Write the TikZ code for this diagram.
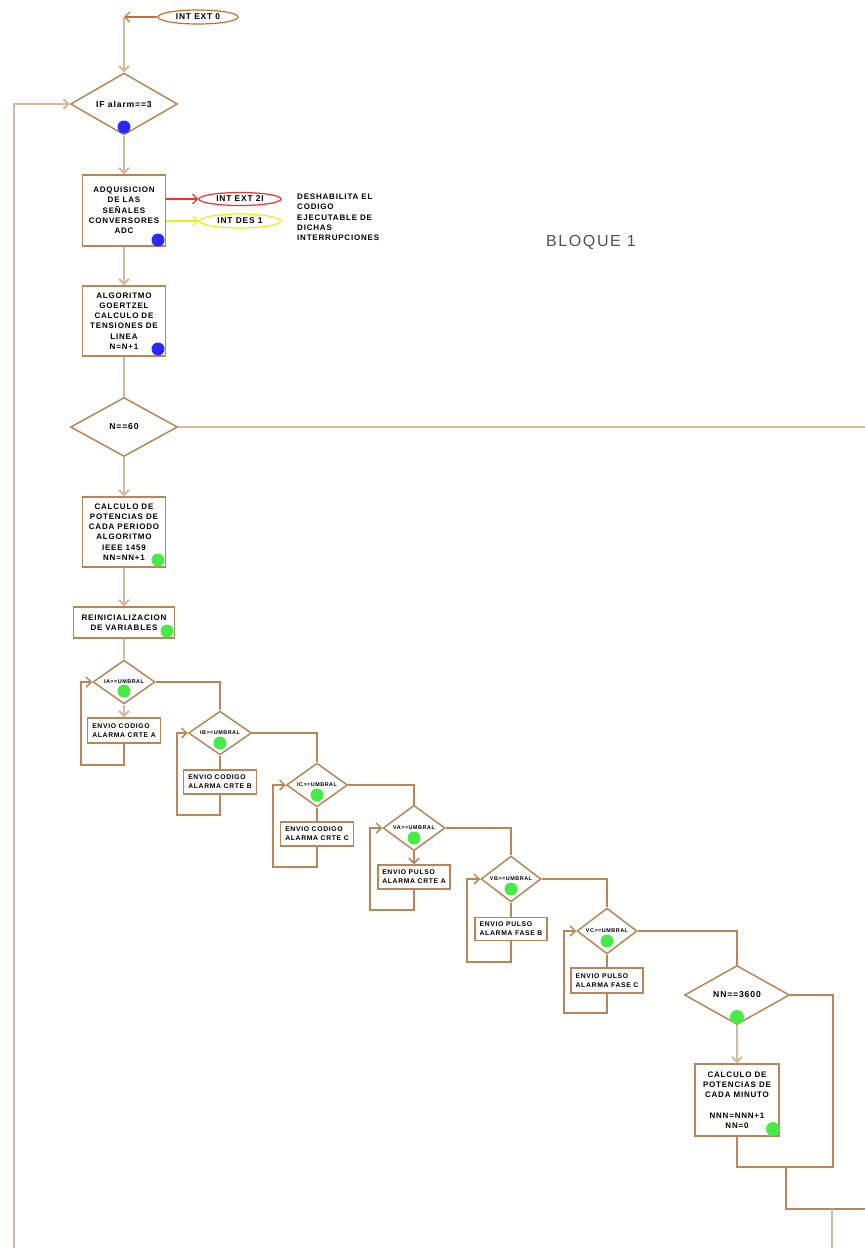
\documentclass[tikz,border=0pt]{standalone}
\usepackage{fontspec}
\setmainfont{Liberation Sans}
\newfontfamily\cad[LetterSpace=10]{Liberation Sans}
\usetikzlibrary{shapes.geometric,arrows.meta}
\definecolor{brn}{RGB}{184,134,88}
\definecolor{lbrn}{RGB}{214,186,158}
\definecolor{ebrn}{RGB}{196,110,50}
\definecolor{dotblue}{RGB}{40,40,255}
\definecolor{dotgreen}{RGB}{70,235,70}
\definecolor{ylw}{RGB}{238,238,20}
\definecolor{rd}{RGB}{240,50,50}
\definecolor{txtgray}{RGB}{80,80,80}
\begin{document}
\begin{tikzpicture}[x=1pt,y=-1pt,
  >={Straight Barb[length=5pt,width=10pt]},
  proc/.style={draw=brn, line width=1.5pt, fill=white, inner sep=0pt, align=center,
    font=\cad\bfseries\fontsize{8}{10.3}\selectfont},
  smallproc/.style={draw=brn, line width=1.5pt, fill=white, inner sep=0pt, align=left,
    font=\cad\bfseries\fontsize{6.8}{9}\selectfont},
  dec/.style={diamond, draw=brn, line width=1.5pt, fill=white, inner sep=0pt,
    font=\cad\bfseries\fontsize{8.6}{9}\selectfont},
  smalldec/.style={diamond, draw=brn, line width=1.5pt, fill=white, inner sep=0pt,
    font=\cad\bfseries\fontsize{5.4}{6}\selectfont},
  intr/.style={ellipse, line width=1.2pt, fill=white, inner sep=0pt,
    font=\cad\bfseries\fontsize{8.4}{9}\selectfont},
  flow/.style={draw=lbrn, line width=2pt},
  link/.style={draw=brn, line width=1.5pt},
  bdot/.style={circle, fill=dotblue, inner sep=0pt, minimum size=13pt},
  gdot/.style={circle, fill=dotgreen, inner sep=0pt, minimum size=13pt}
]
\useasboundingbox (0,0) rectangle (865,1248);

% ---- main column ----
\node[intr, draw=ebrn, minimum width=80pt, minimum height=14pt] (int0) at (198,17) {INT EXT 0};
\coordinate (c0) at (124,17);
\node[dec, minimum width=107pt, minimum height=56pt] (d1) at (124,104) {IF alarm==3};
\node[proc, minimum width=83pt, minimum height=71pt] (b2) at (124,210.5)
  {ADQUISICION\\DE LAS\\SEÑALES\\CONVERSORES\\ADC};
\node[intr, draw=rd, minimum width=82pt, minimum height=13pt] (int2) at (240,199) {INT EXT 2I};
\node[intr, draw=ylw, minimum width=81pt, minimum height=14pt] (int3) at (240,221) {INT DES 1};
\node[anchor=north west, inner sep=0pt, align=left, font=\cad\bfseries\fontsize{8}{10.2}\selectfont] (note) at (297,194)
  {DESHABILITA EL\\CODIGO\\EJECUTABLE DE\\DICHAS\\INTERRUPCIONES};
\node[text=txtgray, inner sep=0pt, font=\fontsize{16}{16}\selectfont\addfontfeature{LetterSpace=10}] (bloque) at (591,242) {BLOQUE 1};
\node[proc, minimum width=83pt, minimum height=70pt] (b3) at (124,321)
  {ALGORITMO\\GOERTZEL\\CALCULO DE\\TENSIONES DE\\LINEA\\N=N+1};
\node[dec, minimum width=107pt, minimum height=59pt] (d2) at (124,427) {N==60};
\node[proc, minimum width=83pt, minimum height=70pt] (b4) at (124,532)
  {CALCULO DE\\POTENCIAS DE\\CADA PERIODO\\ALGORITMO\\IEEE 1459\\NN=NN+1};
\node[proc, minimum width=101pt, minimum height=31pt] (b5) at (124,622.5)
  {REINICIALIZACION\\DE VARIABLES};

% ---- threshold cascade ----
\node[smalldec, minimum width=62pt, minimum height=34pt] (dA) at (124,682) {IA>=UMBRAL};
\node[smallproc, minimum width=73pt, minimum height=25pt] (bA) at (124,730.5) {ENVIO CODIGO\\ALARMA CRTE A};
\node[smalldec, minimum width=63pt, minimum height=35pt] (dB) at (220,733) {IB>=UMBRAL};
\node[smallproc, minimum width=73pt, minimum height=24pt] (bB) at (220,782) {ENVIO CODIGO\\ALARMA CRTE B};
\node[smalldec, minimum width=61pt, minimum height=36pt] (dC) at (317,785) {IC>=UMBRAL};
\node[smallproc, minimum width=73pt, minimum height=24pt] (bC) at (317,834) {ENVIO CODIGO\\ALARMA CRTE C};
\node[smalldec, minimum width=62pt, minimum height=36pt] (dVA) at (414,828) {VA>=UMBRAL};
\node[smallproc, minimum width=72pt, minimum height=24pt] (bVA) at (414,877) {ENVIO PULSO\\ALARMA CRTE A};
\node[smalldec, minimum width=60pt, minimum height=35pt] (dVB) at (511,879) {VB>=UMBRAL};
\node[smallproc, minimum width=72pt, minimum height=23pt] (bVB) at (511,929) {ENVIO PULSO\\ALARMA FASE B};
\node[smalldec, minimum width=60pt, minimum height=36pt] (dVC) at (607,931) {VC>=UMBRAL};
\node[smallproc, minimum width=72pt, minimum height=25pt] (bVC) at (607,980.5) {ENVIO PULSO\\ALARMA FASE C};
\node[dec, minimum width=105pt, minimum height=59pt] (d7) at (737,995) {NN==3600};
\node[proc, minimum width=84pt, minimum height=72pt] (b7) at (737,1100)
  {CALCULO DE\\POTENCIAS DE\\CADA MINUTO\\[10.3pt]NNN=NNN+1\\NN=0};

% ---- free ends and corners ----
\coordinate (lb) at (14,1248);
\coordinate (e60) at (865,427);
\coordinate (lA) at (81,765);
\coordinate (lB) at (177,815);
\coordinate (lC) at (273,867);
\coordinate (lVA) at (370,910);
\coordinate (lVB) at (467,962);
\coordinate (lVC) at (564,1013);
\coordinate (r7) at (833,1167);
\coordinate (m1) at (786,1167);
\coordinate (m2) at (786,1209);
\coordinate (eR) at (865,1209);
\coordinate (m3) at (832,1209);
\coordinate (eB) at (832,1248);

% ---- connectors: main flow ----
\draw[ebrn, line width=1.2pt, ->] (int0.west) -- (c0);
\draw[flow, ->] (c0) -- (d1.north);
\draw[flow, ->] (lb) |- (d1.west);
\draw[flow, ->] (d1.south) -- (b2.north);
\draw[rd, line width=1.2pt, ->] (b2.east |- int2) -- (int2.west);
\draw[ylw, line width=1.2pt, ->] (b2.east |- int3) -- (int3.west);
\draw[flow, ->] (b2.south) -- (b3.north);
\draw[flow] (b3.south) -- (d2.north);
\draw[flow, line width=1.5pt] (d2.east) -- (e60);
\draw[flow, ->] (d2.south) -- (b4.north);
\draw[flow, ->] (b4.south) -- (b5.north);
\draw[flow] (b5.south) -- (dA.north);

% ---- connectors: cascade ----
\draw[flow, ->] (dA.south) -- (bA.north);
\draw[link, ->] (bA.south) |- (lA) |- (dA.west);
\draw[link] (dA.east) -| (dB.north);
\draw[link] (dB.south) -- (bB.north);
\draw[link, ->] (bB.south) |- (lB) |- (dB.west);
\draw[link] (dB.east) -| (dC.north);
\draw[link] (dC.south) -- (bC.north);
\draw[link, ->] (bC.south) |- (lC) |- (dC.west);
\draw[link] (dC.east) -| (dVA.north);
\draw[link, ->] (dVA.south) -- (bVA.north);
\draw[link, ->] (bVA.south) |- (lVA) |- (dVA.west);
\draw[link] (dVA.east) -| (dVB.north);
\draw[link] (dVB.south) -- (bVB.north);
\draw[link, ->] (bVB.south) |- (lVB) |- (dVB.west);
\draw[link] (dVB.east) -| (dVC.north);
\draw[link] (dVC.south) -- (bVC.north);
\draw[link, ->] (bVC.south) |- (lVC) |- (dVC.west);
\draw[link] (dVC.east) -| (d7.north);
\draw[flow, ->] (d7.south) -- (b7.north);
\draw[link] (d7.east) -| (r7) -| (b7.south);
\draw[link] (m1) |- (eR);
\draw[flow] (m3) -- (eB);

% ---- state markers ----
\node[bdot] (p1) at (124,127) {};
\node[bdot] (p2) at (158,240) {};
\node[bdot] (p3) at (158,349) {};
\node[gdot] (p4) at (158,560) {};
\node[gdot] (p5) at (167,631) {};
\node[gdot] (pA) at (124,691) {};
\node[gdot] (pB) at (220,743) {};
\node[gdot] (pC) at (317,795) {};
\node[gdot] (pVA) at (414,838) {};
\node[gdot] (pVB) at (511,889) {};
\node[gdot] (pVC) at (607,941) {};
\node[gdot, minimum size=14pt] (p7) at (737,1017) {};
\node[gdot, minimum size=14pt] (p8) at (773,1129) {};
\end{tikzpicture}
\end{document}
